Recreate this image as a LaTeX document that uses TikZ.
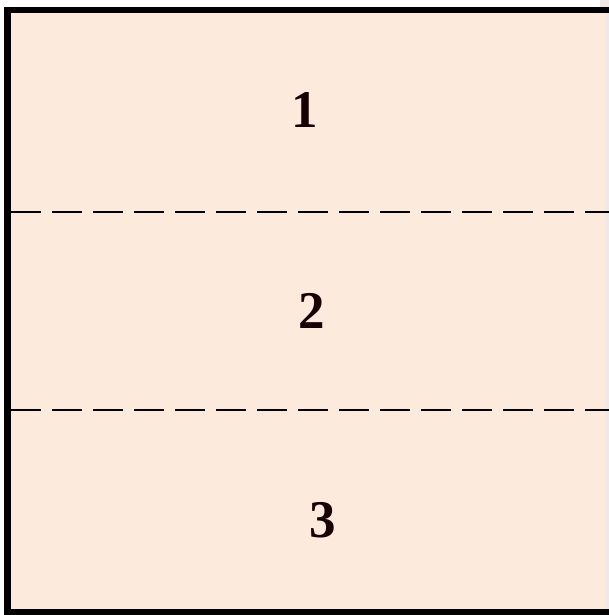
\documentclass[tikz,border=0pt]{standalone}
\usepackage{fontspec}
\setmainfont{Liberation Serif}
\definecolor{peach}{RGB}{252,234,220}
\definecolor{edgegray}{RGB}{238,232,232}
\begin{document}
\begin{tikzpicture}[x=1pt,y=-1pt,
  digit/.style={font=\fontsize{53}{53}\selectfont\bfseries, text=black!90!red, inner sep=0pt},
  divider/.style={draw=black, line width=2pt, dash pattern=on 30pt off 11pt}]
\useasboundingbox (0,0) rectangle (609,615);
\fill[white] (0,0) rectangle (609,615);
\fill[edgegray] (600,0) rectangle (609,615);
\fill[peach] (8,10) rectangle (605,612);
% border (left, top, bottom)
\draw[line width=7pt] (7.5,615) -- (7.5,10) ;
\draw[line width=6pt] (4,10) -- (609,10);
\draw[line width=6pt] (4,612) -- (609,612);
% dividers
\coordinate (d1l) at (11,212);
\coordinate (d1r) at (609,212);
\coordinate (d2l) at (11,410);
\coordinate (d2r) at (609,410);
\draw[divider] (d1l) -- (d1r);
\draw[divider] (d2l) -- (d2r);
\node[digit] (n1) at (305,110) {1};
\node[digit] (n2) at (312,311) {2};
\node[digit] (n3) at (323,520) {3};
\end{tikzpicture}
\end{document}
